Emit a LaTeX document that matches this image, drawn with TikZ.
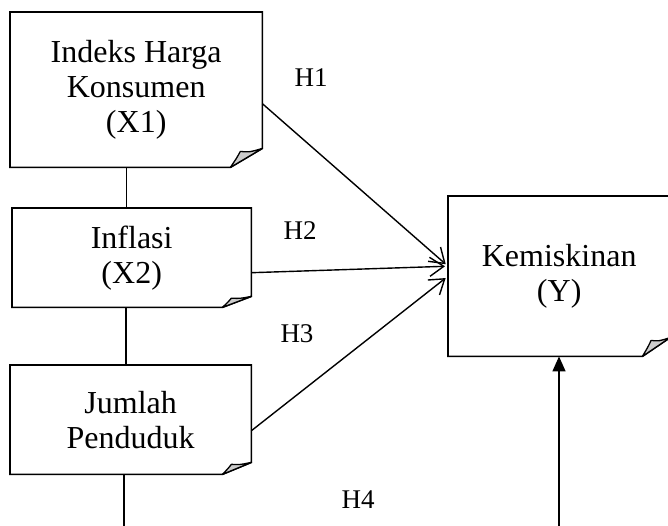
\documentclass[tikz,border=0pt]{standalone}
\usepackage{fontspec}
\setmainfont{Liberation Serif}
\usepackage{tikz}
\usetikzlibrary{arrows.meta}

\begin{document}
\begin{tikzpicture}[
  x=1pt, y=-1pt,
  box/.style={inner sep=0pt, anchor=north west, align=center, font=\fontsize{32}{35}\selectfont},
  boxline/.style={line width=1.6pt, line join=miter},
  fold/.style={line width=1.3pt, fill=gray!40, line join=round},
  hyp/.style={anchor=base, font=\fontsize{27}{30}\selectfont},
  arr/.style={-{Straight Barb[length=14pt,width=19pt]}, line width=1.4pt, shorten >=3pt},
  link/.style={line width=1.4pt}
]
\useasboundingbox (0,0) rectangle (668,526);

\node[box, minimum width=252pt, minimum height=155pt] at (10,12)  (ihk) {Indeks Harga\\Konsumen\\(X1)};
\node[box, minimum width=239pt, minimum height=99pt]  at (12,208) (inf) {Inflasi\\(X2)};
\node[box, minimum width=241pt, minimum height=109pt] at (10,365) (jp)  {Jumlah\\Penduduk};
\node[box, minimum width=222pt, minimum height=160pt] at (448,196) (kem) {Kemiskinan\\(Y)};

% folded corners
\foreach \n/\fw/\fh in {ihk/32/19, inf/29/11, jp/29/12, kem/28/19} {
  \draw[boxline] (\n.north west) -- (\n.north east) -- ([yshift=\fh pt]\n.south east)
    -- ([xshift=-\fw pt]\n.south east) -- (\n.south west) -- cycle;
  \draw[fold] ([xshift=-\fw pt]\n.south east)
    .. controls ([xshift=-0.8*\fw pt, yshift=0.5*\fh pt]\n.south east) .. ([xshift=-0.69*\fw pt, yshift=0.84*\fh pt]\n.south east)
    .. controls ([xshift=-0.4*\fw pt, yshift=0.8*\fh pt]\n.south east) .. ([yshift=\fh pt]\n.south east) -- cycle;
}

\coordinate (kin) at ([yshift=10pt]kem.west);
\coordinate (jpout) at (jp.south -| 124,0);
\coordinate (kemin) at (559,526);
\coordinate (jpend) at (124,526);

\draw[link] ([xshift=-10pt]ihk.south) -- ([xshift=-10pt]ihk.south |- inf.north);
\draw[link] (inf.south -| 126,0) -- (jp.north -| 126,0);
\draw[link] (jpout) -- (jpend);

\draw[arr] ([yshift=-14pt]ihk.east) -- (kin);
\draw[arr] ([yshift=-15pt]inf.east) -- (kin);
\draw[arr] ([yshift=-11pt]jp.east) -- (kem.west);
\draw[-{Triangle[length=15pt,width=13pt]}, line width=1.4pt] (kemin) -- (kemin |- kem.south);

\node[hyp] at (311,87)  (h1) {H1};
\node[hyp] at (300,240) (h2) {H2};
\node[hyp] at (297,342) (h3) {H3};
\node[hyp] at (358,508) (h4) {H4};
\end{tikzpicture}
\end{document}
